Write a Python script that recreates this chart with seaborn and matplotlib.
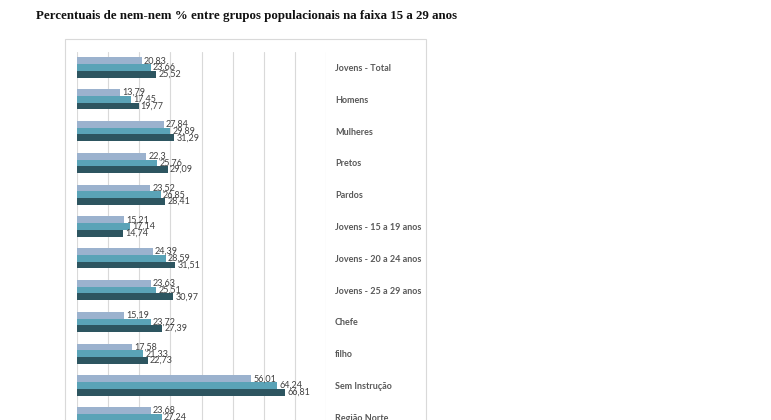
import matplotlib
matplotlib.use("Agg")
import matplotlib.pyplot as plt
from matplotlib.patches import Rectangle
import seaborn as sns
import pandas as pd

categories = ["Jovens - Total", "Homens", "Mulheres", "Pretos", "Pardos",
              "Jovens - 15 a 19 anos", "Jovens - 20 a 24 anos", "Jovens - 25 a 29 anos",
              "Chefe", "filho", "Sem Instrução", "Região Norte"]
series_names = ["Série 1", "Série 2", "Série 3"]
serie1 = [20.83, 13.79, 27.84, 22.3, 23.52, 15.21, 24.39, 23.63, 15.19, 17.58, 56.01, 23.68]
serie2 = [23.66, 17.45, 29.89, 25.76, 26.85, 17.14, 28.59, 25.51, 23.72, 21.33, 64.24, 27.24]
serie3 = [25.52, 19.77, 31.29, 29.09, 28.41, 14.74, 31.51, 30.97, 27.39, 22.73, 66.81, 29.5]
colors = ["#93B1D6", "#4BACC6", "#245A69"]
title = "Percentuais de nem-nem % entre grupos populacionais na faixa 15 a 29 anos"

rows = []
for name, vals in zip(series_names, [serie1, serie2, serie3]):
    for c, v in zip(categories, vals):
        rows.append({"categoria": c, "serie": name, "valor": v})
df = pd.DataFrame(rows)

sns.set_style("white")
plt.rcParams["font.family"] = ["Lato", "DejaVu Sans"]

W, H = 771, 420
fig = plt.figure(figsize=(W / 100, H / 100), dpi=100)
fig.patch.set_facecolor("white")

top_px = 51.6
band = 31.8
n = len(categories)
ax_left, ax_right = 77, 326
ax_top = top_px
ax_bottom = top_px + band * n
ax = fig.add_axes([ax_left / W, 1 - ax_bottom / H, (ax_right - ax_left) / W, (ax_bottom - ax_top) / H])

sns.barplot(data=df, y="categoria", x="valor", hue="serie", order=categories,
            hue_order=series_names, palette=colors, orient="h", width=0.64,
            linewidth=0, legend=False, ax=ax, zorder=3)

ax.set_xlim(0, 80)
ax.set_ylim(n - 0.5, -0.5)
ax.set_xticks(range(0, 81, 10))
ax.xaxis.grid(True, color="#D9D9D9", linewidth=0.8, zorder=0)
ax.yaxis.grid(False)
ax.set_axisbelow(True)
for s in ax.spines.values():
    s.set_visible(False)
ax.set_xlabel("")
ax.set_ylabel("")
ax.tick_params(axis="x", labelbottom=False, length=0)
ax.yaxis.tick_right()
ax.tick_params(axis="y", length=0, pad=6.5)
for lab in ax.get_yticklabels():
    lab.set_fontsize(6.5)
    lab.set_fontweight("bold")
    lab.set_color("#595959")
    lab.set_horizontalalignment("left")

for cont in ax.containers:
    labels = [f"{v:g}".replace(".", ",") for v in cont.datavalues]
    ax.bar_label(cont, labels=labels, padding=1.5, fontsize=6.5, color="#404040")

fig.text(36 / W, 1 - 19 / H, title, fontsize=9.3, fontweight="bold",
         family=["Liberation Serif", "DejaVu Serif"], va="baseline", ha="left", color="#111111")

box = Rectangle((65 / W, -0.2), (426 - 65) / W, (H - 39) / H + 0.2, transform=fig.transFigure,
                fill=False, edgecolor="#D9D9D9", linewidth=0.8)
fig.add_artist(box)

fig.savefig("out.png", dpi=100, facecolor="white")
